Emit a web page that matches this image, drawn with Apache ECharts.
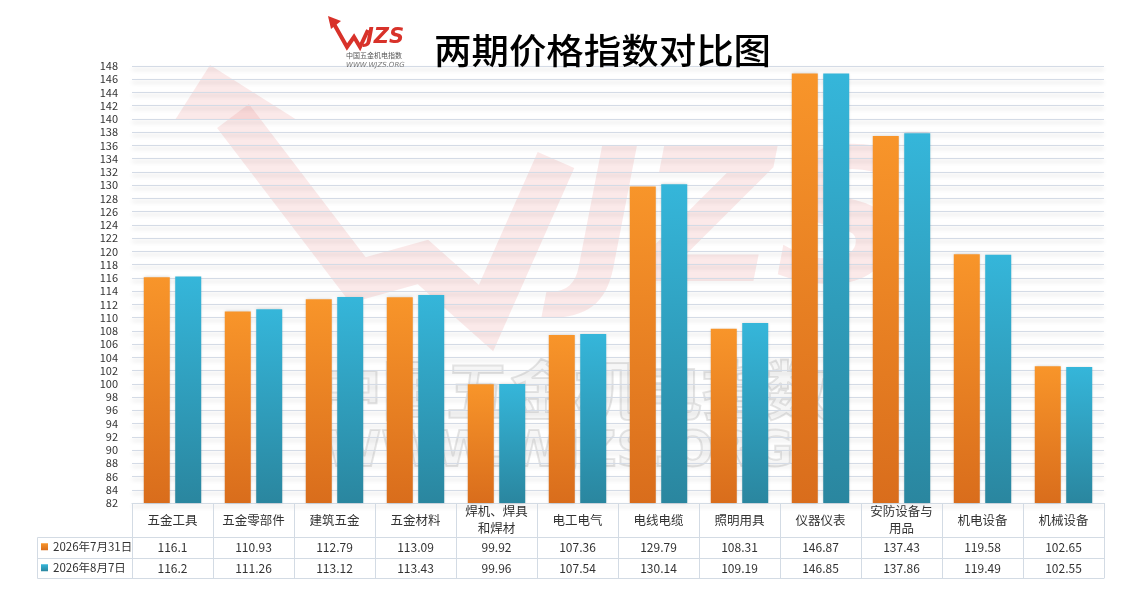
<!DOCTYPE html>
<html>
<head>
<meta charset="utf-8">
<title>两期价格指数对比图</title>
<script src="https://cdn.jsdelivr.net/npm/echarts@6/dist/echarts.min.js"></script>
<style>
  html, body { margin: 0; padding: 0; background: #fff; }
  #chart { width: 1121px; height: 593px; }
</style>
</head>
<body>
<div id="chart"></div>
<script>
// data
const categories = ['五金工具', '五金零部件', '建筑五金', '五金材料', '焊机、焊具\n和焊材', '电工电气',
  '电线电缆', '照明用具', '仪器仪表', '安防设备与\n用品', '机电设备', '机械设备'];
const seriesNames = ['2026年7月31日', '2026年8月7日'];
const julValues = [116.1, 110.93, 112.79, 113.09, 99.92, 107.36, 129.79, 108.31, 146.87, 137.43, 119.58, 102.65];
const augValues = [116.2, 111.26, 113.12, 113.43, 99.96, 107.54, 130.14, 109.19, 146.85, 137.86, 119.49, 102.55];
const yMin = 82;
const yMax = 148;
const yStep = 2;

const FONT = '"Noto Sans CJK SC", "Noto Sans", sans-serif';
const BORDER = '#d3dbe4';
const TEXT = '#333';

const chart = echarts.init(document.getElementById('chart'));

const grad = (top, bottom) => new echarts.graphic.LinearGradient(0, 0, 0, 1, [
  { offset: 0, color: top },
  { offset: 1, color: bottom }
]);

// table rows under the plot are extra category axes
const tableAxis = (data, offset, showLabel) => ({
  type: 'category',
  data: data,
  position: 'bottom',
  offset: offset,
  axisLine: { show: true, lineStyle: { color: BORDER, width: 1 } },
  axisTick: { show: false },
  axisLabel: {
    show: showLabel,
    interval: 0,
    margin: 10,
    verticalAlign: 'middle',
    color: TEXT,
    fontSize: 12,
    fontFamily: FONT
  },
  splitLine: { show: false }
});

const legendRow = (name, top) => ({
  data: [name], left: 41, top: top, icon: 'rect',
  itemWidth: 7, itemHeight: 7, itemGap: 4, padding: 0,
  textStyle: { color: TEXT, fontSize: 11.5, fontFamily: FONT }
});

const wmPink = 'rgba(225, 110, 110, 0.15)';
const wmEdge = 'rgba(255, 255, 255, 0.85)';

const option = {
  animation: false,
  backgroundColor: '#fff',
  grid: { left: 132, right: 17, top: 66, bottom: 90 },
  legend: [legendRow(seriesNames[0], 541), legendRow(seriesNames[1], 562)],
  xAxis: [
    {
      type: 'category',
      data: categories,
      position: 'bottom',
      axisLine: { show: true, lineStyle: { color: BORDER, width: 1 } },
      axisTick: { show: true, interval: 0, length: 75, lineStyle: { color: BORDER } },
      axisLabel: {
        interval: 0,
        margin: 17,
        verticalAlign: 'middle',
        lineHeight: 17,
        color: TEXT,
        fontSize: 12.5,
        fontFamily: FONT
      },
      splitLine: { show: false }
    },
    tableAxis(julValues.map(String), 34, true),
    tableAxis(augValues.map(String), 55, true),
    tableAxis(categories.map(() => ''), 75, false)
  ],
  yAxis: {
    type: 'value',
    min: yMin,
    max: yMax,
    interval: yStep,
    axisLine: { show: false },
    axisTick: { show: false },
    axisLabel: { color: TEXT, fontSize: 11, margin: 14, fontFamily: FONT },
    splitLine: {
      show: true,
      lineStyle: {
        color: '#d4dbe6',
        width: 1,
        shadowColor: 'rgba(0,0,0,0.2)',
        shadowBlur: 4,
        shadowOffsetY: 3
      }
    }
  },
  series: [
    {
      name: seriesNames[0],
      type: 'bar',
      data: julValues,
      barWidth: 26,
      barGap: '21%',
      itemStyle: {
        color: grad('#f8952a', '#d96d1c'),
        shadowColor: 'rgba(0,0,0,0.18)',
        shadowBlur: 3
      }
    },
    {
      name: seriesNames[1],
      type: 'bar',
      data: augValues,
      barWidth: 26,
      itemStyle: {
        color: grad('#35b6da', '#2a869f'),
        shadowColor: 'rgba(0,0,0,0.18)',
        shadowBlur: 3
      }
    }
  ],
  graphic: [
    // title
    {
      type: 'text', x: 434, y: 33, scaleX: 1.07, z: 10,
      style: { text: '两期价格指数对比图', fill: '#000', font: '500 35px ' + FONT }
    },
    // small logo
    {
      type: 'polyline', z: 10,
      shape: { points: [[334, 24], [347, 47], [354, 37], [360, 47], [368, 30]] },
      style: { stroke: '#d8322a', lineWidth: 4, fill: null }
    },
    {
      type: 'polygon', z: 10,
      shape: { points: [[328, 16], [341, 21], [331, 29]] },
      style: { fill: '#d8322a' }
    },
    {
      type: 'text', x: 366, y: 27, z: 10,
      style: { text: 'JZS', fill: '#d8322a', font: 'italic bold 21px "DejaVu Sans"' }
    },
    {
      type: 'text', x: 346, y: 52, z: 10,
      style: { text: '中国五金机电指数', fill: '#555', font: '7px ' + FONT }
    },
    {
      type: 'text', x: 346, y: 62, z: 10,
      style: { text: 'WWW.WJZS.ORG', fill: '#777', font: 'italic 7px "DejaVu Sans"' }
    },
    // legend column borders of the table
    {
      type: 'polyline', z: 10, silent: true,
      shape: { points: [[132, 537.5], [37.5, 537.5], [37.5, 578.5], [132, 578.5]] },
      style: { stroke: BORDER, lineWidth: 1, fill: null }
    },
    {
      type: 'line', z: 10, silent: true,
      shape: { x1: 37.5, y1: 558.5, x2: 132, y2: 558.5 },
      style: { stroke: BORDER, lineWidth: 1 }
    },
    // watermark
    {
      type: 'group', z: 100, silent: true,
      children: [
        {
          type: 'polyline',
          shape: { points: [[233, 116], [358, 280], [423, 262], [486, 318], [556, 160]] },
          style: { stroke: wmPink, lineWidth: 40, lineJoin: 'miter', fill: null }
        },
        {
          type: 'polygon',
          shape: { points: [[210, 65], [297, 120], [175, 120]] },
          style: { fill: wmPink }
        },
        {
          type: 'text', x: 572, y: 140,
          style: {
            text: 'JZS', fill: wmPink, stroke: wmEdge, lineWidth: 2,
            font: 'italic bold 185px "DejaVu Sans"'
          }
        },
        {
          type: 'text', x: 318, y: 358,
          style: {
            text: '中国五金机电指数', fill: 'rgba(170,170,170,0.10)',
            stroke: 'rgba(140,140,140,0.22)', lineWidth: 2, font: 'bold 64px ' + FONT
          }
        },
        {
          type: 'text', x: 326, y: 428,
          style: {
            text: 'WWW.WJZS.ORG', fill: 'rgba(170,170,170,0.10)',
            stroke: 'rgba(140,140,140,0.22)', lineWidth: 2, font: 'bold 50px "DejaVu Sans"'
          }
        }
      ]
    }
  ]
};

chart.setOption(option);
</script>
</body>
</html>
